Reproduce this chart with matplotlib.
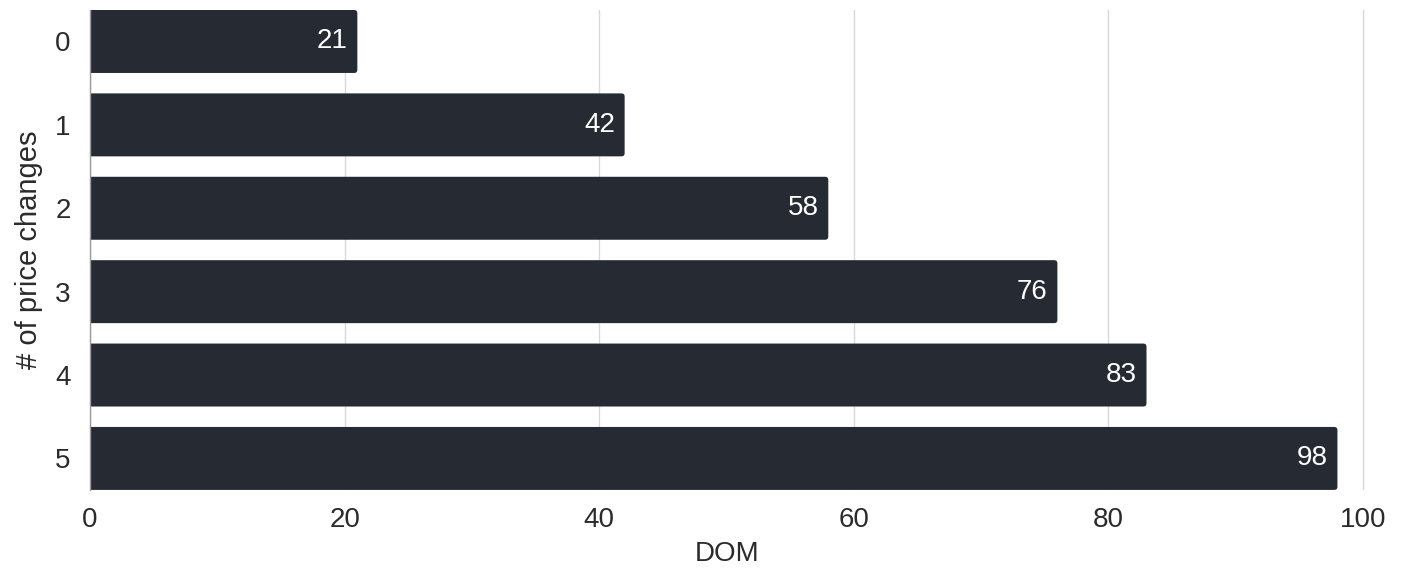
import matplotlib.pyplot as plt
from matplotlib.patches import FancyBboxPatch

plt.rcParams['font.family'] = ['Liberation Sans', 'DejaVu Sans']

changes = ['0', '1', '2', '3', '4', '5']
dom = [21, 42, 58, 76, 83, 98]

bar_color = '#262a32'
text_color = '#2b2b2b'

fig = plt.figure(figsize=(14.07, 5.71), dpi=100)
ax = fig.add_axes([0.064, 0.142, 0.906, 0.8405])

h = 0.755
pos = list(range(len(changes)))
bars = ax.barh(pos, dom, height=h, color=bar_color)

# swap plain rectangles for ones with small rounded corners
for r in bars:
    x, y, w, hh = r.get_x(), r.get_y(), r.get_width(), r.get_height()
    p = FancyBboxPatch((x - 0.5, y), w + 0.5, hh,
                       boxstyle='round,pad=0,rounding_size=0.25',
                       mutation_aspect=0.153, fc=bar_color, ec='none', zorder=2)
    r.remove()
    ax.add_patch(p)

for i, v in zip(pos, dom):
    ax.annotate(str(v), xy=(v, i), xytext=(-7, 0), textcoords='offset points',
                ha='right', va='center', color='white', fontsize=20)

ax.set_xlim(0, 100.15)
ax.set_ylim(len(changes) - 1 + h / 2, -h / 2)
ax.set_yticks(pos)
ax.set_yticklabels(changes)
ax.set_xticks([0, 20, 40, 60, 80, 100])

ax.grid(axis='x', color='#d9d9d9', lw=1, zorder=0)
ax.set_axisbelow(True)
for s in ['top', 'right', 'bottom']:
    ax.spines[s].set_visible(False)
ax.spines['left'].set_color('#9a9a9a')
ax.spines['left'].set_linewidth(1)

ax.tick_params(axis='both', length=0, labelsize=20, colors=text_color)
ax.tick_params(axis='x', pad=12)
ax.tick_params(axis='y', pad=14)

ax.set_xlabel('DOM', fontsize=20, color=text_color, labelpad=6)
ax.set_ylabel('# of price changes', fontsize=21, color=text_color, labelpad=9)

fig.savefig('out.png', dpi=100)
